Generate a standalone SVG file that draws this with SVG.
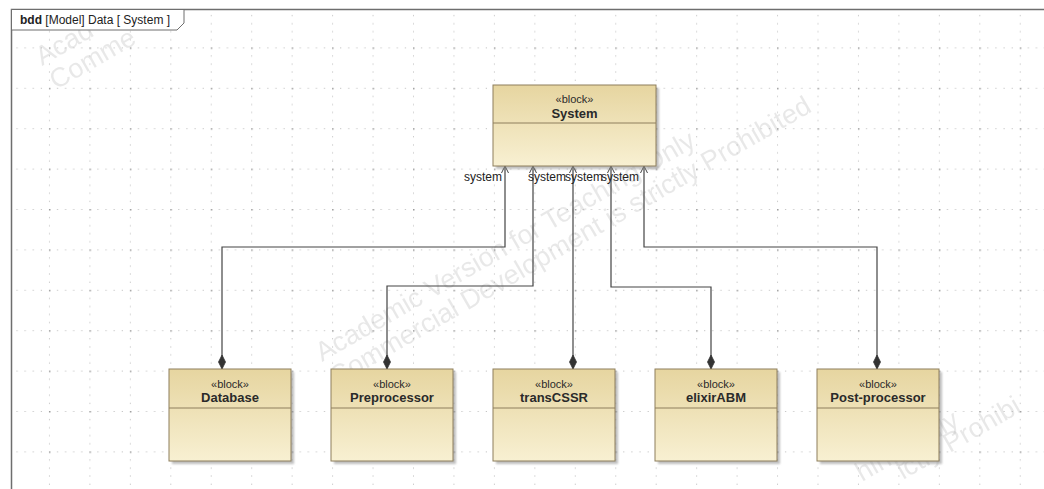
<svg xmlns="http://www.w3.org/2000/svg" width="1044" height="489" viewBox="0 0 1044 489">
<style>
.frame{fill:none;stroke:#6e6e6e;stroke-width:1.5}
.blk{fill:url(#blkGrad);stroke:#8e7f5c;stroke-width:1}
.shadow{fill:#8a8a8a;opacity:.55;filter:url(#blur)}
.div{stroke:#8e7f5c;stroke-width:1}
.st{font-family:"Liberation Sans",Arial,sans-serif;font-size:11px;fill:#2a2a2a;text-anchor:middle}
.nm{font-family:"Liberation Sans",Arial,sans-serif;font-size:13px;font-weight:bold;fill:#2a2a2a;text-anchor:middle}
.conn{fill:none;stroke:#444;stroke-width:1.2}
.lbl{font-family:"Liberation Sans",Arial,sans-serif;font-size:12px;fill:#222}
.wm{font-family:"Liberation Sans",Arial,sans-serif;font-size:27px;fill:#9a9a9a;opacity:.22}
.title{font-family:"Liberation Sans",Arial,sans-serif;font-size:12px;fill:#222}
</style>
<defs>
<linearGradient id="blkGrad" x1="0" y1="0" x2="0" y2="1">
<stop offset="0" stop-color="#e6d5a0"/>
<stop offset="1" stop-color="#f8f0d2"/>
</linearGradient>
<filter id="blur" x="-10%" y="-10%" width="120%" height="120%"><feGaussianBlur stdDeviation="1.2"/></filter>
<pattern id="grid" patternUnits="userSpaceOnUse" x="8.5" y="7" width="40.45" height="40.4">
<line x1="0" y1="0.5" x2="40.45" y2="0.5" stroke="#b8b8b8" stroke-width="1" stroke-dasharray="1 7.09"/>
<line x1="0.5" y1="0" x2="0.5" y2="40.4" stroke="#b8b8b8" stroke-width="1" stroke-dasharray="1 7.08"/>
<rect x="0" y="0" width="1.5" height="1.5" fill="#999"/>
</pattern>
<marker id="arr" markerUnits="userSpaceOnUse" viewBox="-9 -5 10 10" markerWidth="10" markerHeight="10" refX="0" refY="0" orient="auto-start-reverse">
<path d="M-7,-3.5 L0,0 L-7,3.5" fill="none" stroke="#444" stroke-width="1"/>
</marker>
<marker id="dia" markerUnits="userSpaceOnUse" viewBox="-15 -5 16 10" markerWidth="16" markerHeight="10" refX="0" refY="0" orient="auto">
<path d="M0,0 L-7,-3.5 L-14,0 L-7,3.5 Z" fill="#333" stroke="#333" stroke-width="0.8"/>
</marker>
</defs>
<rect x="0" y="0" width="1044" height="489" fill="#ffffff"/>
<rect x="12" y="10" width="1032" height="479" fill="url(#grid)"/>

<g id="watermark">
<g transform="translate(322,362) rotate(-30)"><text class="wm" x="0" y="0">Academic Version for Teaching Only</text><text class="wm" x="0" y="28">Commercial Development is strictly Prohibited</text></g>
<text class="wm" transform="translate(42,66) rotate(-30)">Acad</text>
<text class="wm" transform="translate(56,90) rotate(-30)">Comme</text>
<text class="wm" transform="translate(862,482) rotate(-30)">hing Only</text>
<text class="wm" transform="translate(903,480) rotate(-30)">ictly Prohibi</text>
</g>

<g id="frame">
<path class="frame" d="M11.5,489 V9.5 H1044"/>
<path d="M11.5,9.5 H184 V23 L177,30 H11.5 Z" fill="#ffffff" stroke="#6e6e6e" stroke-width="1"/>
<text class="title" x="20" y="24"><tspan font-weight="bold">bdd</tspan> [Model] Data [ System ]</text>
</g>

<g id="connectors">
<path class="conn" d="M505,166 V247 H222 V369" marker-start="url(#arr)" marker-end="url(#dia)"/>
<path class="conn" d="M533,166 V286 H387 V369" marker-start="url(#arr)" marker-end="url(#dia)"/>
<path class="conn" d="M573,166 V369" marker-start="url(#arr)" marker-end="url(#dia)"/>
<path class="conn" d="M611,166 V287 H711 V369" marker-start="url(#arr)" marker-end="url(#dia)"/>
<path class="conn" d="M644,166 V247 H877 V369" marker-start="url(#arr)" marker-end="url(#dia)"/>
<text class="lbl" x="502" y="181" text-anchor="end">system</text>
<text class="lbl" x="528" y="181">system</text>
<text class="lbl" x="565" y="181">system</text>
<text class="lbl" x="601" y="181">system</text>
</g>

<g id="System">
<rect class="shadow" x="496" y="88" width="163" height="81"/>
<rect class="blk" x="493" y="85" width="163" height="81"/>
<line class="div" x1="493" y1="123" x2="656" y2="123"/>
<text class="st" x="574.5" y="103">«block»</text>
<text class="nm" x="574.5" y="118">System</text>
</g>

<g id="Database">
<rect class="shadow" x="172" y="372" width="122" height="92"/>
<rect class="blk" x="169" y="369" width="122" height="92"/>
<line class="div" x1="169" y1="408" x2="291" y2="408"/>
<text class="st" x="230" y="388">«block»</text>
<text class="nm" x="230" y="402">Database</text>
</g>

<g id="Preprocessor">
<rect class="shadow" x="334" y="372" width="122" height="92"/>
<rect class="blk" x="331" y="369" width="122" height="92"/>
<line class="div" x1="331" y1="408" x2="453" y2="408"/>
<text class="st" x="392" y="388">«block»</text>
<text class="nm" x="392" y="402">Preprocessor</text>
</g>

<g id="transCSSR">
<rect class="shadow" x="496" y="372" width="122" height="92"/>
<rect class="blk" x="493" y="369" width="122" height="92"/>
<line class="div" x1="493" y1="408" x2="615" y2="408"/>
<text class="st" x="554" y="388">«block»</text>
<text class="nm" x="554" y="402">transCSSR</text>
</g>

<g id="elixirABM">
<rect class="shadow" x="658" y="372" width="122" height="92"/>
<rect class="blk" x="655" y="369" width="122" height="92"/>
<line class="div" x1="655" y1="408" x2="777" y2="408"/>
<text class="st" x="716" y="388">«block»</text>
<text class="nm" x="716" y="402">elixirABM</text>
</g>

<g id="Post-processor">
<rect class="shadow" x="820" y="372" width="122" height="92"/>
<rect class="blk" x="817" y="369" width="122" height="92"/>
<line class="div" x1="817" y1="408" x2="939" y2="408"/>
<text class="st" x="878" y="388">«block»</text>
<text class="nm" x="878" y="402">Post-processor</text>
</g>
</svg>
